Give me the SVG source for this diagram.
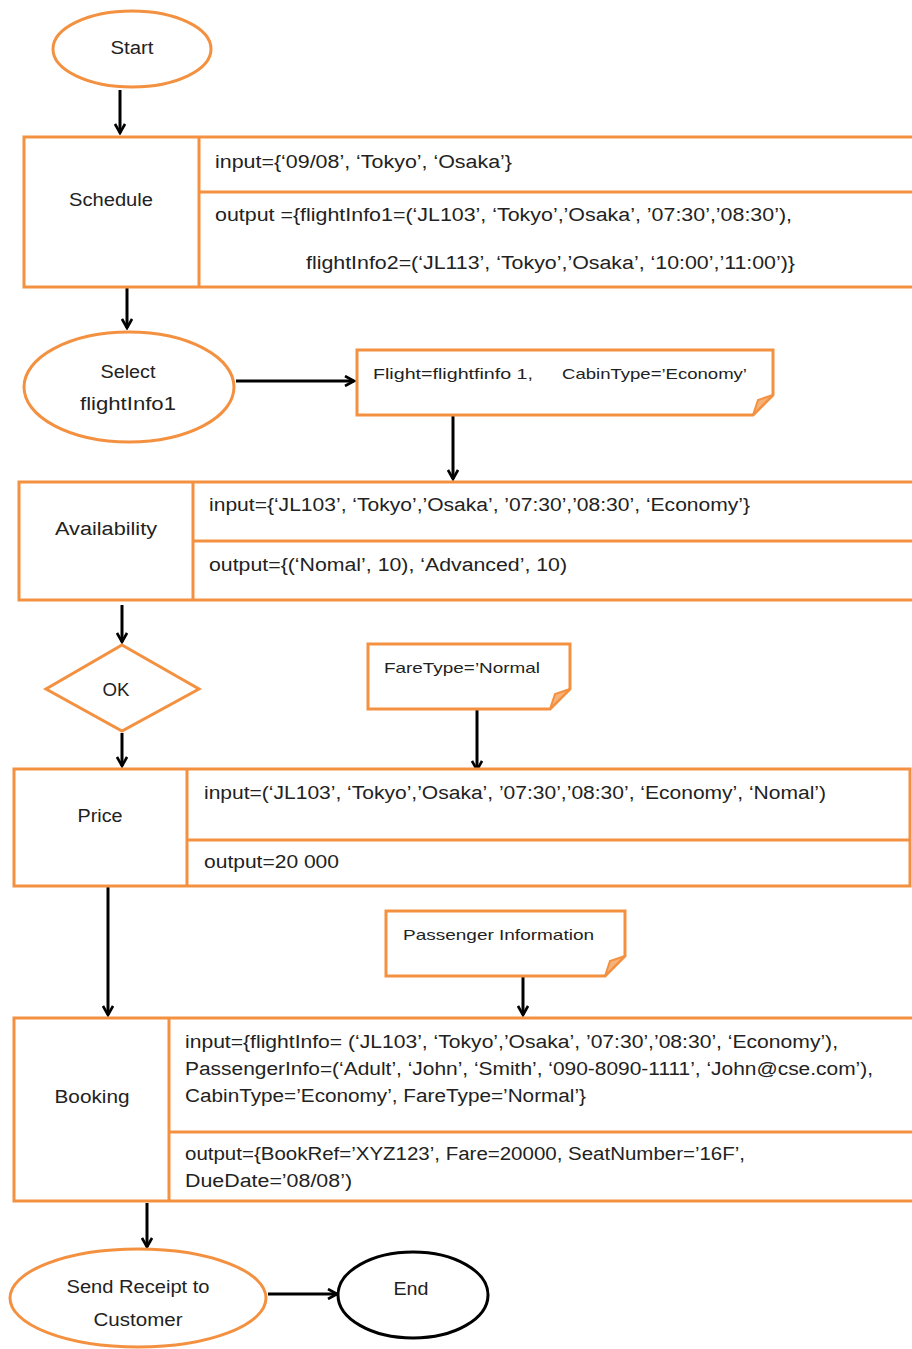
<svg xmlns="http://www.w3.org/2000/svg" width="912" height="1349" viewBox="0 0 912 1349">
<defs>
<marker id="arr" viewBox="0 0 12 12" refX="10" refY="6" markerWidth="12" markerHeight="12" markerUnits="userSpaceOnUse" orient="auto">
<polyline points="1,1 10,6 1,11" fill="none" stroke="#000" stroke-width="2.6"/>
</marker>
<style>
.sh{fill:#fff;stroke:#F39140;stroke-width:3}
.ln{fill:none;stroke:#F39140;stroke-width:3}
.fold{fill:#F7B27A;stroke:#F39140;stroke-width:2}
.c{stroke:#000;stroke-width:3;fill:none;marker-end:url(#arr)}
text{font-family:"Liberation Sans",Arial,sans-serif;font-size:18px;fill:#222}
.m{text-anchor:middle}
.s{font-size:15px}
</style>
</defs>
<rect width="912" height="1349" fill="#fff"/>

<g id="connectors">
<line class="c" x1="120" y1="90" x2="120" y2="133"/>
<line class="c" x1="127" y1="288" x2="127" y2="328"/>
<line class="c" x1="236" y1="381" x2="354" y2="381"/>
<line class="c" x1="453" y1="416" x2="453" y2="479"/>
<line class="c" x1="122" y1="605" x2="122" y2="642"/>
<line class="c" x1="122" y1="733" x2="122" y2="766"/>
<line class="c" x1="477" y1="710" x2="477" y2="770"/>
<line class="c" x1="108" y1="887" x2="108" y2="1015"/>
<line class="c" x1="523" y1="977" x2="523" y2="1015"/>
<line class="c" x1="147" y1="1203" x2="147" y2="1247"/>
<line class="c" x1="268" y1="1294" x2="337" y2="1294"/>
</g>

<g id="start">
<ellipse class="sh" cx="132" cy="49" rx="79" ry="38"/>
<text class="m" x="132" y="54" textLength="43" lengthAdjust="spacingAndGlyphs">Start</text>
</g>

<g id="schedule">
<rect class="sh" x="24" y="137" width="890" height="150"/>
<line class="ln" x1="199" y1="137" x2="199" y2="287"/>
<line class="ln" x1="199" y1="192" x2="914" y2="192"/>
<text class="m" x="111" y="206" textLength="84" lengthAdjust="spacingAndGlyphs">Schedule</text>
<text x="215" y="168" textLength="297" lengthAdjust="spacingAndGlyphs">input={‘09/08’, ‘Tokyo’, ‘Osaka’}</text>
<text x="215" y="221" textLength="577" lengthAdjust="spacingAndGlyphs">output  ={flightInfo1=(‘JL103’, ‘Tokyo’,’Osaka’, ’07:30’,’08:30’),</text>
<text x="306" y="269" textLength="489" lengthAdjust="spacingAndGlyphs">flightInfo2=(‘JL113’, ‘Tokyo’,’Osaka’, ‘10:00’,’11:00’)}</text>
</g>

<g id="select">
<ellipse class="sh" cx="129" cy="387" rx="105" ry="55"/>
<text class="m" x="128" y="378" textLength="55" lengthAdjust="spacingAndGlyphs">Select</text>
<text class="m" x="128" y="410" textLength="96" lengthAdjust="spacingAndGlyphs">flightInfo1</text>
</g>

<g id="note-flight">
<path class="sh" d="M357,350 H773 V395 L753,415 H357 Z"/>
<path class="fold" d="M773,395 L753,415 L758,400 Z"/>
<text class="s" x="373" y="379" textLength="160" lengthAdjust="spacingAndGlyphs">Flight=flightfinfo 1,</text>
<text class="s" x="562" y="379" textLength="185" lengthAdjust="spacingAndGlyphs">CabinType=’Economy’</text>
</g>

<g id="availability">
<rect class="sh" x="19" y="482" width="895" height="118"/>
<line class="ln" x1="193" y1="482" x2="193" y2="600"/>
<line class="ln" x1="193" y1="541" x2="914" y2="541"/>
<text class="m" x="106" y="535" textLength="102" lengthAdjust="spacingAndGlyphs">Availability</text>
<text x="209" y="511" textLength="541" lengthAdjust="spacingAndGlyphs">input={‘JL103’, ‘Tokyo’,’Osaka’, ’07:30’,’08:30’, ‘Economy’}</text>
<text x="209" y="571" textLength="358" lengthAdjust="spacingAndGlyphs">output={(‘Nomal’, 10), ‘Advanced’, 10)</text>
</g>

<g id="ok">
<polygon class="sh" points="122,645 199,689 122,731 46,689"/>
<text class="m" x="116" y="696" textLength="27" lengthAdjust="spacingAndGlyphs">OK</text>
</g>

<g id="note-fare">
<path class="sh" d="M368,644 H570 V689 L550,709 H368 Z"/>
<path class="fold" d="M570,689 L550,709 L555,694 Z"/>
<text class="s" x="384" y="673" textLength="156" lengthAdjust="spacingAndGlyphs">FareType=’Normal</text>
</g>

<g id="price">
<rect class="sh" x="14" y="769" width="896" height="117"/>
<line class="ln" x1="187" y1="769" x2="187" y2="886"/>
<line class="ln" x1="187" y1="840" x2="910" y2="840"/>
<text class="m" x="100" y="822" textLength="45" lengthAdjust="spacingAndGlyphs">Price</text>
<text x="204" y="799" textLength="622" lengthAdjust="spacingAndGlyphs">input=(‘JL103’, ‘Tokyo’,’Osaka’, ’07:30’,’08:30’, ‘Economy’, ‘Nomal’)</text>
<text x="204" y="868" textLength="135" lengthAdjust="spacingAndGlyphs">output=20 000</text>
</g>

<g id="note-passenger">
<path class="sh" d="M386,911 H625 V956 L605,976 H386 Z"/>
<path class="fold" d="M625,956 L605,976 L610,961 Z"/>
<text class="s" x="403" y="940" textLength="191" lengthAdjust="spacingAndGlyphs">Passenger Information</text>
</g>

<g id="booking">
<rect class="sh" x="14" y="1018" width="900" height="183"/>
<line class="ln" x1="169" y1="1018" x2="169" y2="1201"/>
<line class="ln" x1="169" y1="1132" x2="914" y2="1132"/>
<text class="m" x="92" y="1103" textLength="75" lengthAdjust="spacingAndGlyphs">Booking</text>
<text x="185" y="1048" textLength="653" lengthAdjust="spacingAndGlyphs">input={flightInfo= (‘JL103’, ‘Tokyo’,’Osaka’, ’07:30’,’08:30’, ‘Economy’),</text>
<text x="185" y="1075" textLength="688" lengthAdjust="spacingAndGlyphs">PassengerInfo=(‘Adult’, ‘John’, ‘Smith’, ‘090-8090-1111’, ‘John@cse.com’),</text>
<text x="185" y="1102" textLength="401" lengthAdjust="spacingAndGlyphs">CabinType=’Economy’, FareType=’Normal’}</text>
<text x="185" y="1160" textLength="560" lengthAdjust="spacingAndGlyphs">output={BookRef=’XYZ123’, Fare=20000, SeatNumber=’16F’,</text>
<text x="185" y="1187" textLength="167" lengthAdjust="spacingAndGlyphs">DueDate=’08/08’)</text>
</g>

<g id="send-receipt">
<ellipse class="sh" cx="138" cy="1298" rx="128" ry="49"/>
<text class="m" x="138" y="1293" textLength="143" lengthAdjust="spacingAndGlyphs">Send Receipt to</text>
<text class="m" x="138" y="1326" textLength="89" lengthAdjust="spacingAndGlyphs">Customer</text>
</g>

<g id="end">
<ellipse cx="413" cy="1295" rx="75" ry="43" fill="#fff" stroke="#000" stroke-width="3"/>
<text class="m" x="411" y="1295" textLength="35" lengthAdjust="spacingAndGlyphs">End</text>
</g>
</svg>
